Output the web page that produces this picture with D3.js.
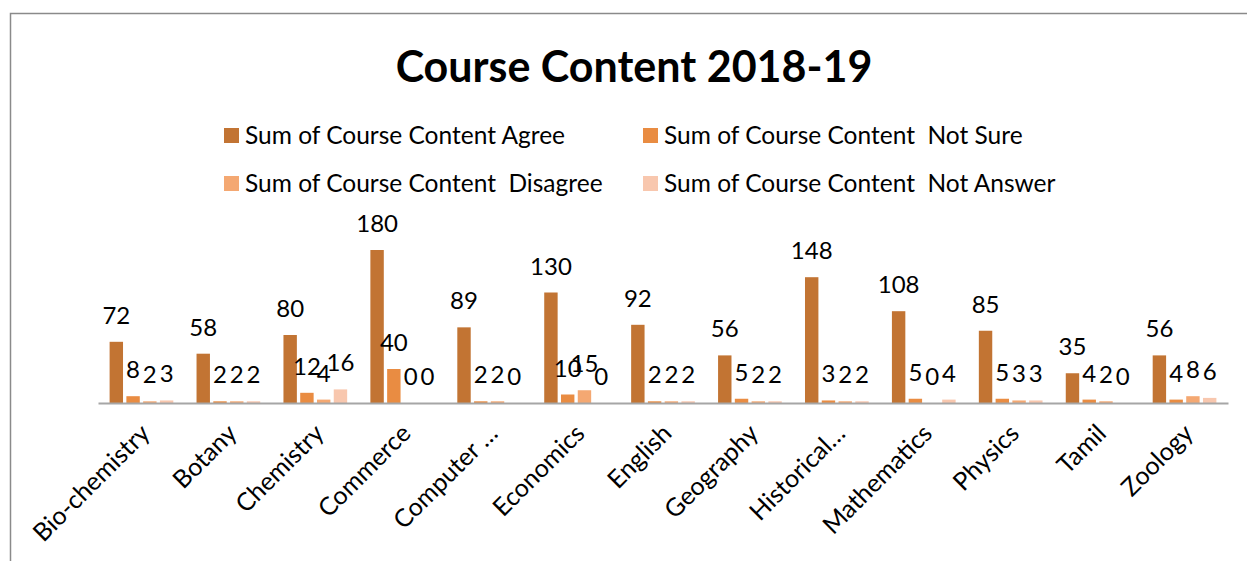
<!DOCTYPE html>
<html>
<head>
<meta charset="utf-8">
<script src="https://cdn.jsdelivr.net/npm/d3@7"></script>
<style>
  html, body { margin: 0; padding: 0; background: #fff; }
  svg { display: block; }
  text { font-family: Lato, "Open Sans", sans-serif; fill: #000; }
</style>
</head>
<body>
<svg id="chart" width="1247" height="561"></svg>
<script>
const categories = ["Bio-chemistry", "Botany", "Chemistry", "Commerce", "Computer …", "Economics",
  "English", "Geography", "Historical…", "Mathematics", "Physics", "Tamil", "Zoology"];
const agree     = [72, 58, 80, 180, 89, 130, 92, 56, 148, 108, 85, 35, 56];
const notSure   = [8, 2, 12, 40, 2, 10, 2, 5, 3, 5, 5, 4, 4];
const disagree  = [2, 2, 4, 0, 2, 15, 2, 2, 2, 0, 3, 2, 8];
const notAnswer = [3, 2, 16, 0, 0, 0, 2, 2, 2, 4, 3, 0, 6];
const seriesNames = ["Sum of Course Content Agree", "Sum of Course Content  Not Sure",
  "Sum of Course Content  Disagree", "Sum of Course Content  Not Answer"];
const seriesColors = ["#C27433", "#E98C42", "#F4A872", "#F8C7AE"];
const title = "Course Content 2018-19";

const seriesValues = [agree, notSure, disagree, notAnswer];
const svg = d3.select("#chart");

// chart frame
svg.append("rect").attr("x", 10.5).attr("y", 13.5).attr("width", 1300).attr("height", 600)
  .attr("fill", "none").attr("stroke", "#8a8a8a").attr("stroke-width", 1.5);

// title
svg.append("text").attr("x", 634).attr("y", 82).attr("text-anchor", "middle")
  .style("font-size", "43px").style("font-weight", "bold").text(title);

// scales
const plotLeft = 98, plotRight = 1228, baseY = 403;
const x0 = d3.scaleBand().domain(categories).range([plotLeft, plotRight]).paddingInner(0).paddingOuter(0);
const groupW = x0.bandwidth() * 0.81;
const x1 = d3.scaleBand().domain(d3.range(4)).range([0, groupW]).padding(0.2);
const y = d3.scaleLinear().domain([0, 200]).range([baseY, baseY - 170]);

// bars
const groups = svg.append("g").selectAll("g").data(categories).join("g")
  .attr("transform", d => `translate(${x0(d) + (x0.bandwidth() - groupW) / 2},0)`);

groups.each(function(cat, ci) {
  const g = d3.select(this);
  seriesValues.forEach((vals, si) => {
    const v = vals[ci];
    g.append("rect").attr("x", x1(si)).attr("width", x1.bandwidth())
      .attr("y", y(v)).attr("height", baseY - y(v)).attr("fill", seriesColors[si]);
  });
  seriesValues.forEach((vals, si) => {
    const v = vals[ci];
    g.append("text").attr("x", x1(si) + x1.bandwidth() / 2).attr("y", y(v) - 18)
      .attr("text-anchor", "middle").style("font-size", "24px").text(v);
  });
});

// axis baseline
const xAxis = d3.axisBottom(x0).tickSize(0).tickFormat("");
const axisG = svg.append("g").attr("transform", `translate(0,${baseY})`).call(xAxis);
axisG.select(".domain").attr("stroke", "#a6a6a6").attr("stroke-width", 2);

// category labels
svg.append("g").selectAll("text").data(categories).join("text")
  .attr("transform", d => `translate(${x0(d) + x0.bandwidth() / 2 + 10},435) rotate(-45)`)
  .attr("text-anchor", "end").style("font-size", "25px").text(d => d);

// legend
const legendPos = [[224, 128], [643, 128], [224, 176], [643, 176]];
const leg = svg.append("g").selectAll("g").data(seriesNames).join("g")
  .attr("transform", (d, i) => `translate(${legendPos[i][0]},${legendPos[i][1]})`);
leg.append("rect").attr("width", 15).attr("height", 15).attr("fill", (d, i) => seriesColors[i]);
leg.append("text").attr("x", 21).attr("y", 16).style("font-size", "24.5px")
  .style("white-space", "pre").attr("xml:space", "preserve").text(d => d);
</script>
</body>
</html>
